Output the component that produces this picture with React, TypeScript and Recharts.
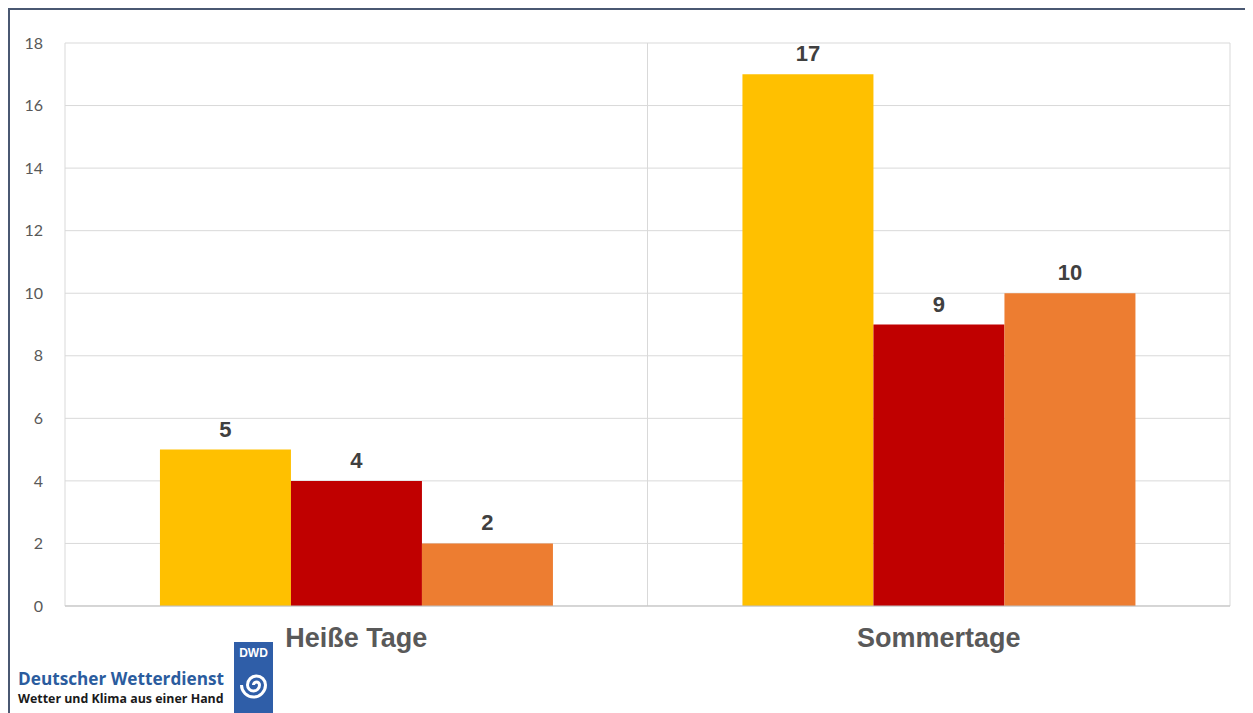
import React from "react";
import { BarChart, Bar, XAxis, YAxis, CartesianGrid, LabelList } from "recharts";

const categories = ["Heiße Tage", "Sommertage"];
const seriesA = [5, 17];
const seriesB = [4, 9];
const seriesC = [2, 10];
const yTicks = [0, 2, 4, 6, 8, 10, 12, 14, 16, 18];

const data = categories.map((name, i) => ({
  name,
  a: seriesA[i],
  b: seriesB[i],
  c: seriesC[i],
}));

const labelStyle = {
  fill: "#404040",
  fontSize: 22,
  fontWeight: 700,
  fontFamily: "Liberation Sans, Arial, sans-serif",
};

const verticalLines = ({ offset }: any) => [
  offset.left,
  offset.left + offset.width / 2,
  offset.left + offset.width,
];

const DwdLogo = () => (
  <>
    <div
      style={{
        position: "absolute",
        left: 8,
        top: 659,
        fontFamily: "Open Sans, sans-serif",
        fontWeight: 700,
        fontSize: 17.2,
        color: "#2b5c9e",
        lineHeight: "20px",
        whiteSpace: "nowrap",
      }}
    >
      Deutscher Wetterdienst
    </div>
    <div
      style={{
        position: "absolute",
        left: 8,
        top: 681,
        fontFamily: "Open Sans, sans-serif",
        fontWeight: 700,
        fontSize: 12.4,
        color: "#1a1a1a",
        lineHeight: "16px",
        whiteSpace: "nowrap",
      }}
    >
      Wetter und Klima aus einer Hand
    </div>
    <svg
      width={39}
      height={71}
      style={{ position: "absolute", left: 224, top: 632 }}
    >
      <rect x={0} y={0} width={39} height={71} fill="#2f5ea8" />
      <text
        x={19.5}
        y={15}
        textAnchor="middle"
        fill="#ffffff"
        fontSize={12}
        fontWeight={700}
        fontFamily="Liberation Sans, Arial, sans-serif"
      >
        DWD
      </text>
      <path
        d="M 19.5 43 a 3 3 0 0 1 6 0 a 6 6 0 0 1 -12 0 a 9 9 0 0 1 18 0 a 12 12 0 0 1 -24 0"
        fill="none"
        stroke="#ffffff"
        strokeWidth={3}
      />
    </svg>
  </>
);

export default function App() {
  return (
    <div
      style={{
        position: "relative",
        width: 1243,
        height: 703,
        borderTop: "2px solid #4a5872",
        borderLeft: "2px solid #4a5872",
        background: "#ffffff",
      }}
    >
      <style>{"html,body{overflow:hidden}"}</style>
      <BarChart
        width={1243}
        height={703}
        data={data}
        margin={{ top: 33, right: 23, left: 0, bottom: 57 }}
        barCategoryGap="16.3%"
        barGap={0}
      >
        <CartesianGrid
          stroke="#d9d9d9"
          verticalCoordinatesGenerator={verticalLines}
        />
        <XAxis
          dataKey="name"
          axisLine={{ stroke: "#bfbfbf" }}
          tickLine={false}
          tickSize={0}
          tickMargin={22}
          height={50}
          tick={{
            fill: "#595959",
            fontSize: 27,
            fontWeight: 700,
            fontFamily: "Liberation Sans, Arial, sans-serif",
          }}
        />
        <YAxis
          domain={[0, 18]}
          ticks={yTicks}
          width={55}
          axisLine={false}
          tickLine={false}
          tickSize={0}
          tickMargin={22}
          tick={{ fill: "#595959", fontSize: 16, fontFamily: "Lato, sans-serif" }}
        />
        <Bar dataKey="a" fill="#ffc000" isAnimationActive={false}>
          <LabelList dataKey="a" position="top" offset={13} style={labelStyle} />
        </Bar>
        <Bar dataKey="b" fill="#c00000" isAnimationActive={false}>
          <LabelList dataKey="b" position="top" offset={13} style={labelStyle} />
        </Bar>
        <Bar dataKey="c" fill="#ed7d31" isAnimationActive={false}>
          <LabelList dataKey="c" position="top" offset={13} style={labelStyle} />
        </Bar>
      </BarChart>
      <DwdLogo />
    </div>
  );
}
